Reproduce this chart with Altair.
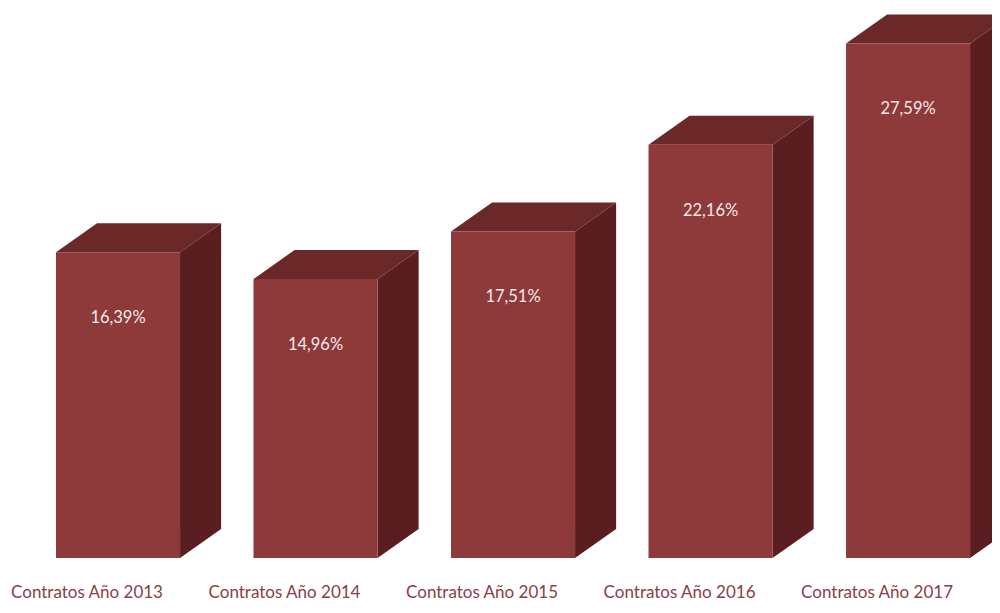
import altair as alt
import pandas as pd

# ---- data ----
categories = ["Contratos Año 2013", "Contratos Año 2014", "Contratos Año 2015",
              "Contratos Año 2016", "Contratos Año 2017"]
values = [16.39, 14.96, 17.51, 22.16, 27.59]
value_labels = ["16,39%", "14,96%", "17,51%", "22,16%", "27,59%"]

# ---- 3D bar geometry (in scale units) ----
HALF = 0.314   # half width of the front face (x units)
DX = 0.208     # depth along x
DY = 1.555     # depth along y (value units)

FRONT = "#8e393a"
TOP = "#6b2829"
SIDE = "#5a1e20"

front_rows, side_rows, top_rows = [], [], []
for i, (c, v, t) in enumerate(zip(categories, values, value_labels)):
    xl, xr = i - HALF, i + HALF
    front_rows.append(dict(bar=i, cat=c, xl=xl, xr=xr, xc=float(i), v=v, lab=t))
    side_rows.append(dict(bar=i, x=xr, ytop=v, ybot=0.0))
    side_rows.append(dict(bar=i, x=xr + DX, ytop=v + DY, ybot=DY))
    top_rows.append(dict(bar=i, y=v, xa=xl, xb=xr))
    top_rows.append(dict(bar=i, y=v + DY, xa=xl + DX, xb=xr + DX))

front = pd.DataFrame(front_rows)
side = pd.DataFrame(side_rows)
top = pd.DataFrame(top_rows)

xs = alt.Scale(domain=[-0.557, 4.425], nice=False, zero=False)
ys = alt.Scale(domain=[0, 29.49], nice=False, zero=False)

front_layer = alt.Chart(front).mark_rect(color=FRONT).encode(
    x=alt.X("xl:Q", scale=xs, axis=None),
    x2="xr:Q",
    y=alt.Y("v:Q", scale=ys, axis=None),
    y2=alt.datum(0),
)

side_layer = alt.Chart(side).mark_area(color=SIDE, orient="vertical").encode(
    x=alt.X("x:Q", scale=xs, axis=None),
    y=alt.Y("ytop:Q", scale=ys, axis=None),
    y2="ybot:Q",
    detail="bar:N",
)

top_layer = alt.Chart(top).mark_area(color=TOP, orient="horizontal").encode(
    y=alt.Y("y:Q", scale=ys, axis=None),
    x=alt.X("xa:Q", scale=xs, axis=None),
    x2="xb:Q",
    detail="bar:N",
)

value_text = alt.Chart(front).mark_text(
    color="#f3e9e9", fontSize=16.5, font="Lato", dy=66, baseline="middle"
).encode(
    x=alt.X("xc:Q", scale=xs, axis=None),
    y=alt.Y("v:Q", scale=ys, axis=None),
    text="lab:N",
)

cat_text = alt.Chart(front).mark_text(
    color="#8b3d48", fontSize=17, font="Lato", dx=-31, baseline="alphabetic"
).encode(
    x=alt.X("xc:Q", scale=xs, axis=None),
    y=alt.value(590),
    text="cat:N",
)

chart = alt.layer(side_layer, top_layer, front_layer, value_text, cat_text).properties(
    width=984, height=550,
    padding={"left": 0, "top": 0, "right": 0, "bottom": 47},
    autosize=alt.AutoSizeParams(type="none"),
    background="white",
).configure_view(stroke=None)

chart.save("out.html", embed_options={"renderer": "svg", "actions": False})
